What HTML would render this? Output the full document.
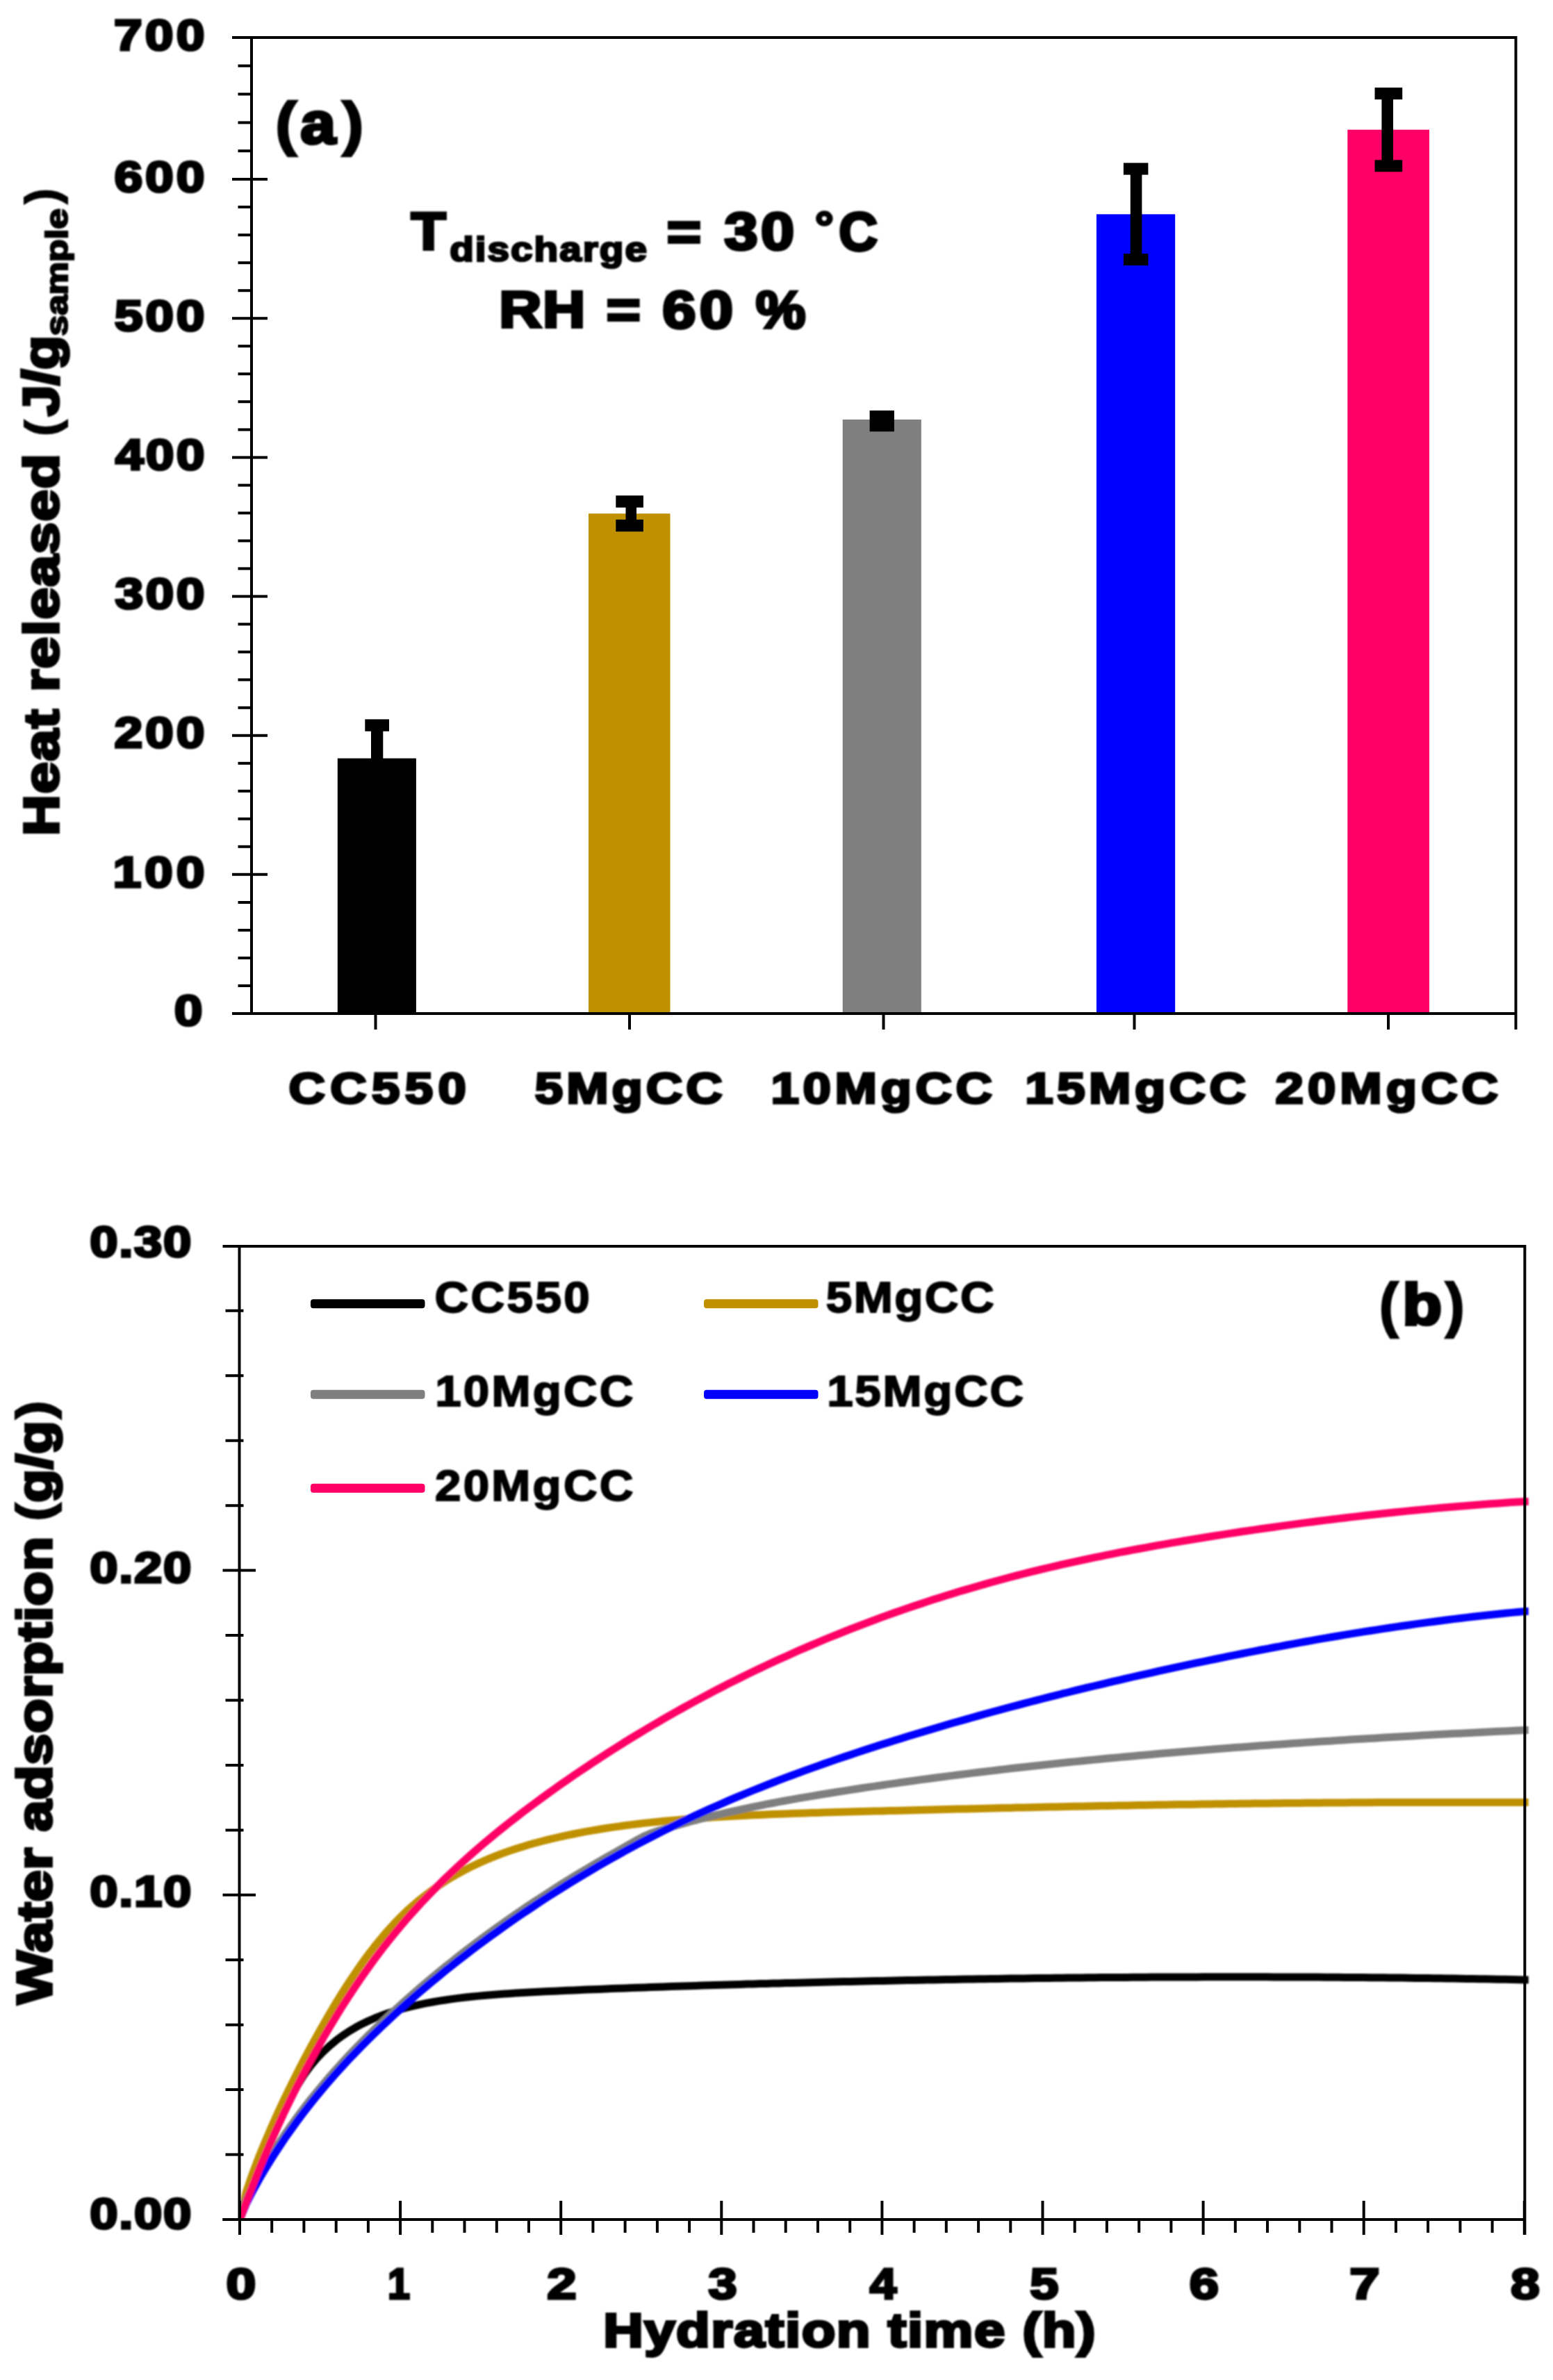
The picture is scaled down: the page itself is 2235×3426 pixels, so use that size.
<!DOCTYPE html><html><head><meta charset="utf-8"><title>Figure</title><style>html,body{margin:0;padding:0;background:#fff}svg{display:block}</style></head><body><svg width="2235" height="3426" viewBox="0 0 2235 3426">
<rect width="2235" height="3426" fill="#fff"/>
<filter id="bl" filterUnits="userSpaceOnUse" x="0" y="0" width="2235" height="3426"><feGaussianBlur stdDeviation="1"/></filter>
<rect x="485.8" y="1091.6" width="113.1" height="367.4" fill="#000"/>
<rect x="847" y="739.3" width="117.5" height="719.7" fill="#BF9000"/>
<rect x="1212.7" y="603.9" width="113.1" height="855.1" fill="#7F7F7F"/>
<rect x="1578" y="308.4" width="113.2" height="1150.6" fill="#0000FF"/>
<rect x="1939.3" y="186.7" width="117.7" height="1272.3" fill="#FF0066"/>
<rect x="525.3" y="1035.4" width="34.7" height="17.3" fill="#000"/>
<rect x="534" y="1052" width="17.3" height="41.0" fill="#000"/>
<rect x="886.3" y="713.3" width="39.6" height="17.3" fill="#000"/>
<rect x="886.3" y="747.9" width="39.6" height="17.3" fill="#000"/>
<rect x="900.5" y="730" width="15.5" height="18.5" fill="#000"/>
<rect x="1251.6" y="590.9" width="35.3" height="30.3" fill="#000"/>
<rect x="1616.9" y="234.5" width="35.5" height="17.1" fill="#000"/>
<rect x="1616.9" y="365.1" width="35.5" height="17.1" fill="#000"/>
<rect x="1626.8" y="251" width="16.6" height="115.0" fill="#000"/>
<rect x="1978.5" y="126.1" width="39.7" height="17.1" fill="#000"/>
<rect x="1978.5" y="230.3" width="39.7" height="17.0" fill="#000"/>
<rect x="1988.4" y="143" width="16.6" height="88.0" fill="#000"/>
<g stroke="#000" stroke-width="4" fill="none">
<path d="M334,54H2183.5M334,1459H2183.5M362,52V1461M2181.5,52V1482"/>
<path d="M334,1459.0H385M342.5,1419.0H362M342.5,1378.9H362M342.5,1338.9H362M342.5,1298.9H362M334,1258.8H385M342.5,1218.8H362M342.5,1178.8H362M342.5,1138.8H362M342.5,1098.7H362M334,1058.7H385M342.5,1018.7H362M342.5,978.6H362M342.5,938.6H362M342.5,898.6H362M334,858.5H385M342.5,818.5H362M342.5,778.5H362M342.5,738.5H362M342.5,698.4H362M334,658.4H385M342.5,618.4H362M342.5,578.3H362M342.5,538.3H362M342.5,498.3H362M334,458.2H385M342.5,418.2H362M342.5,378.2H362M342.5,338.2H362M342.5,298.1H362M334,258.1H385M342.5,217.3H362M342.5,176.5H362M342.5,135.6H362M342.5,94.8H362M540.5,1459V1482M906,1459V1482M1271.5,1459V1482M1632.5,1459V1482M1998,1459V1482"/>
</g>
<g font-family="'Liberation Sans', sans-serif" font-weight="bold" fill="#000" stroke="#000" stroke-linejoin="miter" filter="url(#bl)">
<text transform="translate(162.47,1276.60) scale(1.1500,1)" font-size="63.75" stroke-width="3.51" letter-spacing="4.20">100</text>
<text transform="translate(164.52,1076.45) scale(1.1500,1)" font-size="63.75" stroke-width="3.51" letter-spacing="3.31">200</text>
<text transform="translate(165.40,876.30) scale(1.1500,1)" font-size="63.75" stroke-width="3.51" letter-spacing="2.93">300</text>
<text transform="translate(165.92,676.15) scale(1.1500,1)" font-size="63.75" stroke-width="3.51" letter-spacing="2.71">400</text>
<text transform="translate(164.82,476.00) scale(1.1500,1)" font-size="63.75" stroke-width="3.51" letter-spacing="3.18">500</text>
<text transform="translate(164.38,275.85) scale(1.1500,1)" font-size="63.75" stroke-width="3.51" letter-spacing="3.38">600</text>
<text transform="translate(163.94,71.75) scale(1.1500,1)" font-size="63.75" stroke-width="3.51" letter-spacing="3.57">700</text>
<text transform="translate(250.66,1475.75) scale(1.1500,1)" font-size="63.75" stroke-width="3.51">0</text>
<text transform="translate(415.52,1587.77) scale(1.1500,1)" font-size="63.08" stroke-width="3.47" letter-spacing="6.43">CC550</text>
<text transform="translate(769.82,1587.77) scale(1.1500,1)" font-size="63.08" stroke-width="3.47" letter-spacing="4.33">5MgCC</text>
<text transform="translate(1109.50,1587.77) scale(1.1500,1)" font-size="63.08" stroke-width="3.47" letter-spacing="4.92">10MgCC</text>
<text transform="translate(1475.30,1587.77) scale(1.1500,1)" font-size="63.08" stroke-width="3.47" letter-spacing="4.78">15MgCC</text>
<text transform="translate(1835.53,1587.77) scale(1.1500,1)" font-size="63.08" stroke-width="3.47" letter-spacing="5.26">20MgCC</text>
<text transform="translate(395.98,206.91) scale(1.1001,1)" font-size="85.96" stroke-width="2.58">(</text>
<text transform="translate(432.46,205.91) scale(1.0896,1)" font-size="83.21" stroke-width="4.58">a</text>
<text transform="translate(491.92,206.91) scale(1.1001,1)" font-size="85.96" stroke-width="2.58">)</text>
<text transform="translate(1984.90,1908.20) scale(0.9501,1)" font-size="86.75" stroke-width="2.60">(</text>
<text transform="translate(2018.53,1907.19) scale(1.1015,1)" font-size="83.97" stroke-width="4.62">b</text>
<text transform="translate(2080.06,1908.20) scale(0.9538,1)" font-size="86.75" stroke-width="2.60">)</text>
<text transform="translate(591.65,358.91) scale(1.0726,1)" font-size="76.18" stroke-width="4.19">T</text>
<text transform="translate(647.24,375.65) scale(1.1500,1)" font-size="49.23" stroke-width="2.71" letter-spacing="1.76">discharge</text>
<text transform="translate(959.86,360.00) scale(1.1000,1)" font-size="76.71" stroke-width="4.22">=</text>
<text transform="translate(1042.48,358.93) scale(1.1500,1)" font-size="75.17" stroke-width="4.13" letter-spacing="3.90">30</text>
<text transform="translate(1172.97,348.25) scale(1.1000,1)" font-size="60.61" stroke-width="3.33">°</text>
<text transform="translate(1207.36,359.86) scale(0.9896,1)" font-size="77.82" stroke-width="4.28">C</text>
<text transform="translate(718.23,471.17) scale(1.1500,1)" font-size="73.76" stroke-width="4.06" letter-spacing="1.42">RH</text>
<text transform="translate(872.87,472.23) scale(1.1000,1)" font-size="76.22" stroke-width="4.19">=</text>
<text transform="translate(953.26,472.13) scale(1.1500,1)" font-size="75.43" stroke-width="4.15" letter-spacing="4.66">60</text>
<text transform="translate(1087.78,472.12) scale(1.0648,1)" font-size="75.63" stroke-width="4.16">%</text>
<text transform="translate(84.04,1203.16) rotate(-90) scale(1.1500,1)" font-size="71.33" stroke-width="3.92" letter-spacing="1.18">Heat released</text>
<text transform="translate(83.00,627.66) rotate(-90) scale(1.0406,1)" font-size="66.62" stroke-width="2.00">(</text>
<text transform="translate(84.04,599.00) rotate(-90) scale(1.1270,1)" font-size="71.33" stroke-width="3.92">J/g</text>
<text transform="translate(97.10,483.40) rotate(-90) scale(1.2199,1)" font-size="43.59" stroke-width="2.40">sample</text>
<text transform="translate(83.00,293.47) rotate(-90) scale(0.9975,1)" font-size="66.62" stroke-width="2.00">)</text>
<text transform="translate(74.26,2885.05) rotate(-90) scale(1.1500,1)" font-size="70.66" stroke-width="3.89" letter-spacing="0.47">Water adsorption</text>
<text transform="translate(73.43,2189.87) rotate(-90) scale(1.1050,1)" font-size="71.13" stroke-width="2.13">(</text>
<text transform="translate(74.26,2162.76) rotate(-90) scale(1.1101,1)" font-size="70.66" stroke-width="3.89">g/g</text>
<text transform="translate(73.43,2042.40) rotate(-90) scale(1.1050,1)" font-size="71.13" stroke-width="2.13">)</text>
<text transform="translate(868.13,3377.59) scale(1.1500,1)" font-size="69.31" stroke-width="3.81" letter-spacing="1.36">Hydration time (h)</text>
<text transform="translate(129.17,1808.77) scale(1.1500,1)" font-size="63.08" stroke-width="3.47" letter-spacing="1.47">0.30</text>
<text transform="translate(129.17,2278.07) scale(1.1500,1)" font-size="63.08" stroke-width="3.47" letter-spacing="1.47">0.20</text>
<text transform="translate(129.17,2744.37) scale(1.1500,1)" font-size="63.08" stroke-width="3.47" letter-spacing="1.47">0.10</text>
<text transform="translate(129.17,3208.27) scale(1.1500,1)" font-size="63.08" stroke-width="3.47" letter-spacing="1.47">0.00</text>
<text transform="translate(325.61,3309.25) scale(1.2090,1)" font-size="63.75" stroke-width="3.51">0</text>
<text transform="translate(558.02,3309.25) scale(0.9016,1)" font-size="63.75" stroke-width="3.51">1</text>
<text transform="translate(787.30,3309.25) scale(1.1955,1)" font-size="63.75" stroke-width="3.51">2</text>
<text transform="translate(1019.41,3309.25) scale(1.1610,1)" font-size="63.75" stroke-width="3.51">3</text>
<text transform="translate(1251.87,3309.25) scale(1.0883,1)" font-size="63.75" stroke-width="3.51">4</text>
<text transform="translate(1482.31,3309.25) scale(1.1610,1)" font-size="63.75" stroke-width="3.51">5</text>
<text transform="translate(1711.85,3309.25) scale(1.1911,1)" font-size="63.75" stroke-width="3.51">6</text>
<text transform="translate(1942.37,3309.25) scale(1.2228,1)" font-size="63.75" stroke-width="3.51">7</text>
<text transform="translate(2174.24,3309.25) scale(1.1694,1)" font-size="63.75" stroke-width="3.51">8</text>
<text transform="translate(625.52,1889.00) scale(1.0800,1)" font-size="62.33" stroke-width="1.99" letter-spacing="3.16">CC550</text>
<text transform="translate(1188.76,1889.00) scale(1.0800,1)" font-size="62.33" stroke-width="1.99" letter-spacing="2.30">5MgCC</text>
<text transform="translate(626.20,2024.00) scale(1.0800,1)" font-size="62.33" stroke-width="1.99" letter-spacing="2.94">10MgCC</text>
<text transform="translate(1190.20,2024.00) scale(1.0800,1)" font-size="62.33" stroke-width="1.99" letter-spacing="2.53">15MgCC</text>
<text transform="translate(625.99,2160.00) scale(1.0800,1)" font-size="62.33" stroke-width="1.99" letter-spacing="2.98">20MgCC</text>
</g>
<clipPath id="pc"><rect x="346.5" y="1796" width="1856" height="1401"/></clipPath>
<g clip-path="url(#pc)"><g fill="none" stroke-width="11" stroke-linejoin="round" stroke-linecap="butt" filter="url(#bl)">
<polyline points="345.0,3195.0 354.2,3171.1 363.5,3147.6 372.7,3124.6 382.0,3102.0 391.2,3079.8 400.5,3058.0 409.7,3037.4 419.0,3018.6 428.2,3001.8 437.4,2987.0 446.7,2974.3 455.9,2963.3 465.2,2953.5 474.4,2944.9 483.7,2937.2 492.9,2930.4 502.1,2924.2 511.4,2918.7 520.6,2913.7 529.9,2909.2 539.1,2905.2 548.4,2901.5 557.6,2898.2 566.9,2895.2 576.1,2892.5 585.3,2890.0 594.6,2887.7 603.8,2885.6 613.1,2883.7 622.3,2882.0 631.6,2880.4 640.8,2879.0 650.1,2877.6 659.3,2876.4 668.5,2875.3 677.8,2874.3 687.0,2873.4 696.3,2872.5 705.5,2871.7 714.8,2871.0 724.0,2870.3 733.2,2869.7 742.5,2869.1 751.7,2868.5 761.0,2868.0 770.2,2867.5 779.5,2867.1 788.7,2866.6 798.0,2866.2 807.2,2865.8 816.4,2865.3 825.7,2864.9 834.9,2864.5 844.2,2864.1 853.4,2863.7 862.7,2863.4 871.9,2863.0 881.2,2862.6 890.4,2862.3 899.6,2861.9 908.9,2861.6 918.1,2861.2 927.4,2860.9 936.6,2860.5 945.9,2860.2 955.1,2859.9 964.3,2859.6 973.6,2859.3 982.8,2859.0 992.1,2858.7 1001.3,2858.4 1010.6,2858.1 1019.8,2857.8 1029.1,2857.5 1038.3,2857.2 1047.5,2856.9 1056.8,2856.7 1066.0,2856.4 1075.3,2856.1 1084.5,2855.9 1093.8,2855.6 1103.0,2855.4 1112.3,2855.1 1121.5,2854.9 1130.7,2854.6 1140.0,2854.4 1149.2,2854.2 1158.5,2853.9 1167.7,2853.7 1177.0,2853.5 1186.2,2853.2 1195.4,2853.0 1204.7,2852.8 1213.9,2852.6 1223.2,2852.4 1232.4,2852.2 1241.7,2852.0 1250.9,2851.8 1260.2,2851.6 1269.4,2851.4 1278.6,2851.2 1287.9,2851.0 1297.1,2850.8 1306.4,2850.6 1315.6,2850.5 1324.9,2850.3 1334.1,2850.1 1343.4,2849.9 1352.6,2849.8 1361.8,2849.6 1371.1,2849.4 1380.3,2849.3 1389.6,2849.1 1398.8,2849.0 1408.1,2848.8 1417.3,2848.7 1426.5,2848.5 1435.8,2848.4 1445.0,2848.3 1454.3,2848.1 1463.5,2848.0 1472.8,2847.9 1482.0,2847.8 1491.3,2847.6 1500.5,2847.5 1509.7,2847.4 1519.0,2847.3 1528.2,2847.2 1537.5,2847.1 1546.7,2847.0 1556.0,2846.9 1565.2,2846.8 1574.5,2846.7 1583.7,2846.6 1592.9,2846.6 1602.2,2846.5 1611.4,2846.4 1620.7,2846.4 1629.9,2846.3 1639.2,2846.2 1648.4,2846.2 1657.6,2846.1 1666.9,2846.1 1676.1,2846.0 1685.4,2846.0 1694.6,2846.0 1703.9,2845.9 1713.1,2845.9 1722.4,2845.9 1731.6,2845.8 1740.8,2845.8 1750.1,2845.8 1759.3,2845.8 1768.6,2845.8 1777.8,2845.8 1787.1,2845.8 1796.3,2845.8 1805.6,2845.8 1814.8,2845.8 1824.0,2845.8 1833.3,2845.9 1842.5,2845.9 1851.8,2845.9 1861.0,2846.0 1870.3,2846.0 1879.5,2846.0 1888.7,2846.1 1898.0,2846.1 1907.2,2846.2 1916.5,2846.2 1925.7,2846.3 1935.0,2846.4 1944.2,2846.4 1953.5,2846.5 1962.7,2846.6 1971.9,2846.7 1981.2,2846.8 1990.4,2846.8 1999.7,2846.9 2008.9,2847.0 2018.2,2847.1 2027.4,2847.2 2036.7,2847.4 2045.9,2847.5 2055.1,2847.6 2064.4,2847.7 2073.6,2847.8 2082.9,2848.0 2092.1,2848.1 2101.4,2848.2 2110.6,2848.4 2119.8,2848.5 2129.1,2848.7 2138.3,2848.8 2147.6,2849.0 2156.8,2849.2 2166.1,2849.3 2175.3,2849.5 2184.6,2849.7 2193.8,2849.9 2199.8,2849.9" stroke="#000"/>
<polyline points="345.0,3195.0 354.2,3155.8 363.5,3128.9 372.7,3104.7 382.0,3082.1 391.2,3060.6 400.5,3040.1 409.7,3020.4 419.0,3001.4 428.2,2982.9 437.4,2965.1 446.7,2947.7 455.9,2930.8 465.2,2914.4 474.4,2898.4 483.7,2882.9 492.9,2868.0 502.1,2853.6 511.4,2839.7 520.6,2826.5 529.9,2813.8 539.1,2801.8 548.4,2790.4 557.6,2779.6 566.9,2769.4 576.1,2759.9 585.3,2750.9 594.6,2742.6 603.8,2734.8 613.1,2727.5 622.3,2720.6 631.6,2714.2 640.8,2708.1 650.1,2702.4 659.3,2697.1 668.5,2692.1 677.8,2687.4 687.0,2683.0 696.3,2678.8 705.5,2674.9 714.8,2671.2 724.0,2667.7 733.2,2664.4 742.5,2661.3 751.7,2658.4 761.0,2655.6 770.2,2653.0 779.5,2650.5 788.7,2648.2 798.0,2646.0 807.2,2643.9 816.4,2641.9 825.7,2640.0 834.9,2638.2 844.2,2636.4 853.4,2634.8 862.7,2633.3 871.9,2631.8 881.2,2630.4 890.4,2629.1 899.6,2627.8 908.9,2626.6 918.1,2625.5 927.4,2624.4 936.6,2623.4 945.9,2622.5 955.1,2621.5 964.3,2620.7 973.6,2619.9 982.8,2619.1 992.1,2618.3 1001.3,2617.6 1010.6,2617.0 1019.8,2616.4 1029.1,2615.8 1038.3,2615.2 1047.5,2614.7 1056.8,2614.2 1066.0,2613.7 1075.3,2613.2 1084.5,2612.8 1093.8,2612.4 1103.0,2612.0 1112.3,2611.6 1121.5,2611.2 1130.7,2610.9 1140.0,2610.6 1149.2,2610.2 1158.5,2609.9 1167.7,2609.6 1177.0,2609.4 1186.2,2609.1 1195.4,2608.8 1204.7,2608.6 1213.9,2608.3 1223.2,2608.1 1232.4,2607.8 1241.7,2607.6 1250.9,2607.3 1260.2,2607.1 1269.4,2606.9 1278.6,2606.6 1287.9,2606.4 1297.1,2606.2 1306.4,2605.9 1315.6,2605.7 1324.9,2605.5 1334.1,2605.2 1343.4,2605.0 1352.6,2604.8 1361.8,2604.6 1371.1,2604.3 1380.3,2604.1 1389.6,2603.9 1398.8,2603.7 1408.1,2603.4 1417.3,2603.2 1426.5,2603.0 1435.8,2602.8 1445.0,2602.6 1454.3,2602.4 1463.5,2602.1 1472.8,2601.9 1482.0,2601.7 1491.3,2601.5 1500.5,2601.3 1509.7,2601.1 1519.0,2600.9 1528.2,2600.7 1537.5,2600.5 1546.7,2600.3 1556.0,2600.2 1565.2,2600.0 1574.5,2599.8 1583.7,2599.6 1592.9,2599.4 1602.2,2599.3 1611.4,2599.1 1620.7,2598.9 1629.9,2598.7 1639.2,2598.6 1648.4,2598.4 1657.6,2598.3 1666.9,2598.1 1676.1,2597.9 1685.4,2597.8 1694.6,2597.6 1703.9,2597.5 1713.1,2597.4 1722.4,2597.2 1731.6,2597.1 1740.8,2596.9 1750.1,2596.8 1759.3,2596.7 1768.6,2596.6 1777.8,2596.4 1787.1,2596.3 1796.3,2596.2 1805.6,2596.1 1814.8,2596.0 1824.0,2595.9 1833.3,2595.8 1842.5,2595.7 1851.8,2595.6 1861.0,2595.5 1870.3,2595.4 1879.5,2595.3 1888.7,2595.2 1898.0,2595.2 1907.2,2595.1 1916.5,2595.0 1925.7,2595.0 1935.0,2594.9 1944.2,2594.8 1953.5,2594.8 1962.7,2594.7 1971.9,2594.7 1981.2,2594.6 1990.4,2594.6 1999.7,2594.6 2008.9,2594.5 2018.2,2594.5 2027.4,2594.5 2036.7,2594.4 2045.9,2594.4 2055.1,2594.4 2064.4,2594.4 2073.6,2594.4 2082.9,2594.4 2092.1,2594.4 2101.4,2594.4 2110.6,2594.4 2119.8,2594.4 2129.1,2594.4 2138.3,2594.4 2147.6,2594.5 2156.8,2594.5 2166.1,2594.5 2175.3,2594.5 2184.6,2594.6 2193.8,2594.6 2199.8,2594.6" stroke="#BF9000"/>
<polyline points="345.0,3188.9 354.2,3166.6 363.5,3148.2 372.7,3131.4 382.0,3115.7 391.2,3100.7 400.5,3086.4 409.7,3072.6 419.0,3059.4 428.2,3046.7 437.4,3034.4 446.7,3022.5 455.9,3011.1 465.2,2999.9 474.4,2989.1 483.7,2978.7 492.9,2968.5 502.1,2958.5 511.4,2948.8 520.6,2939.3 529.9,2930.0 539.1,2920.9 548.4,2912.0 557.6,2903.3 566.9,2894.7 576.1,2886.3 585.3,2878.0 594.6,2869.9 603.8,2861.8 613.1,2854.0 622.3,2846.2 631.6,2838.6 640.8,2831.1 650.1,2823.7 659.3,2816.4 668.5,2809.2 677.8,2802.1 687.0,2795.1 696.3,2788.2 705.5,2781.5 714.8,2774.8 724.0,2768.2 733.2,2761.7 742.5,2755.3 751.7,2748.9 761.0,2742.7 770.2,2736.5 779.5,2730.5 788.7,2724.5 798.0,2718.6 807.2,2712.7 816.4,2707.0 825.7,2701.3 834.9,2695.7 844.2,2690.1 853.4,2684.7 862.7,2679.3 871.9,2674.0 881.2,2668.7 890.4,2663.5 899.6,2658.4 908.9,2653.1 918.1,2647.8 927.4,2643.0 936.6,2639.0 945.9,2635.9 955.1,2633.2 964.3,2630.4 973.6,2627.7 982.8,2625.1 992.1,2622.5 1001.3,2620.1 1010.6,2617.7 1019.8,2615.4 1029.1,2613.1 1038.3,2611.0 1047.5,2608.8 1056.8,2606.8 1066.0,2604.8 1075.3,2602.8 1084.5,2600.9 1093.8,2599.1 1103.0,2597.2 1112.3,2595.5 1121.5,2593.7 1130.7,2592.0 1140.0,2590.4 1149.2,2588.7 1158.5,2587.1 1167.7,2585.6 1177.0,2584.0 1186.2,2582.5 1195.4,2581.0 1204.7,2579.5 1213.9,2578.1 1223.2,2576.6 1232.4,2575.2 1241.7,2573.8 1250.9,2572.4 1260.2,2571.1 1269.4,2569.7 1278.6,2568.4 1287.9,2567.1 1297.1,2565.8 1306.4,2564.5 1315.6,2563.2 1324.9,2561.9 1334.1,2560.7 1343.4,2559.5 1352.6,2558.3 1361.8,2557.1 1371.1,2555.9 1380.3,2554.7 1389.6,2553.6 1398.8,2552.4 1408.1,2551.3 1417.3,2550.2 1426.5,2549.1 1435.8,2548.0 1445.0,2546.9 1454.3,2545.8 1463.5,2544.8 1472.8,2543.8 1482.0,2542.7 1491.3,2541.7 1500.5,2540.7 1509.7,2539.7 1519.0,2538.7 1528.2,2537.8 1537.5,2536.8 1546.7,2535.9 1556.0,2535.0 1565.2,2534.0 1574.5,2533.1 1583.7,2532.2 1592.9,2531.3 1602.2,2530.5 1611.4,2529.6 1620.7,2528.7 1629.9,2527.9 1639.2,2527.1 1648.4,2526.2 1657.6,2525.4 1666.9,2524.6 1676.1,2523.8 1685.4,2523.0 1694.6,2522.2 1703.9,2521.5 1713.1,2520.7 1722.4,2519.9 1731.6,2519.2 1740.8,2518.5 1750.1,2517.7 1759.3,2517.0 1768.6,2516.3 1777.8,2515.6 1787.1,2514.9 1796.3,2514.2 1805.6,2513.5 1814.8,2512.8 1824.0,2512.2 1833.3,2511.5 1842.5,2510.9 1851.8,2510.2 1861.0,2509.6 1870.3,2509.0 1879.5,2508.3 1888.7,2507.7 1898.0,2507.1 1907.2,2506.5 1916.5,2505.9 1925.7,2505.3 1935.0,2504.7 1944.2,2504.1 1953.5,2503.6 1962.7,2503.0 1971.9,2502.4 1981.2,2501.9 1990.4,2501.3 1999.7,2500.8 2008.9,2500.2 2018.2,2499.7 2027.4,2499.2 2036.7,2498.7 2045.9,2498.1 2055.1,2497.6 2064.4,2497.1 2073.6,2496.6 2082.9,2496.1 2092.1,2495.6 2101.4,2495.2 2110.6,2494.7 2119.8,2494.2 2129.1,2493.7 2138.3,2493.3 2147.6,2492.8 2156.8,2492.3 2166.1,2491.9 2175.3,2491.4 2184.6,2491.0 2193.8,2490.6 2199.8,2490.6" stroke="#7F7F7F"/>
<polyline points="345.0,3195.0 354.2,3172.6 363.5,3154.3 372.7,3137.5 382.0,3121.7 391.2,3106.8 400.5,3092.4 409.7,3078.7 419.0,3065.5 428.2,3052.8 437.4,3040.5 446.7,3028.6 455.9,3017.1 465.2,3006.0 474.4,2995.2 483.7,2984.7 492.9,2974.5 502.1,2964.6 511.4,2954.9 520.6,2945.4 529.9,2936.1 539.1,2927.0 548.4,2918.1 557.6,2909.4 566.9,2900.8 576.1,2892.4 585.3,2884.1 594.6,2875.9 603.8,2867.9 613.1,2860.0 622.3,2852.3 631.6,2844.7 640.8,2837.1 650.1,2829.7 659.3,2822.4 668.5,2815.3 677.8,2808.2 687.0,2801.2 696.3,2794.3 705.5,2787.5 714.8,2780.9 724.0,2774.3 733.2,2767.8 742.5,2761.3 751.7,2755.0 761.0,2748.8 770.2,2742.6 779.5,2736.5 788.7,2730.5 798.0,2724.6 807.2,2718.8 816.4,2713.0 825.7,2707.3 834.9,2701.7 844.2,2696.2 853.4,2690.7 862.7,2685.3 871.9,2680.0 881.2,2674.8 890.4,2669.6 899.6,2664.5 908.9,2659.5 918.1,2654.5 927.4,2649.7 936.6,2644.8 945.9,2640.1 955.1,2635.4 964.3,2630.8 973.6,2626.3 982.8,2621.8 992.1,2617.4 1001.3,2613.1 1010.6,2608.8 1019.8,2604.6 1029.1,2600.5 1038.3,2596.4 1047.5,2592.4 1056.8,2588.4 1066.0,2584.6 1075.3,2580.7 1084.5,2577.0 1093.8,2573.3 1103.0,2569.6 1112.3,2566.0 1121.5,2562.4 1130.7,2558.9 1140.0,2555.5 1149.2,2552.1 1158.5,2548.7 1167.7,2545.4 1177.0,2542.1 1186.2,2538.8 1195.4,2535.6 1204.7,2532.4 1213.9,2529.3 1223.2,2526.2 1232.4,2523.1 1241.7,2520.1 1250.9,2517.1 1260.2,2514.1 1269.4,2511.1 1278.6,2508.2 1287.9,2505.3 1297.1,2502.4 1306.4,2499.6 1315.6,2496.8 1324.9,2494.0 1334.1,2491.2 1343.4,2488.4 1352.6,2485.7 1361.8,2483.0 1371.1,2480.3 1380.3,2477.7 1389.6,2475.1 1398.8,2472.5 1408.1,2469.9 1417.3,2467.3 1426.5,2464.8 1435.8,2462.3 1445.0,2459.8 1454.3,2457.3 1463.5,2454.9 1472.8,2452.4 1482.0,2450.0 1491.3,2447.6 1500.5,2445.2 1509.7,2442.9 1519.0,2440.6 1528.2,2438.2 1537.5,2436.0 1546.7,2433.7 1556.0,2431.4 1565.2,2429.2 1574.5,2427.0 1583.7,2424.8 1592.9,2422.6 1602.2,2420.4 1611.4,2418.3 1620.7,2416.1 1629.9,2414.0 1639.2,2411.9 1648.4,2409.8 1657.6,2407.8 1666.9,2405.7 1676.1,2403.7 1685.4,2401.7 1694.6,2399.7 1703.9,2397.7 1713.1,2395.7 1722.4,2393.7 1731.6,2391.8 1740.8,2389.9 1750.1,2388.0 1759.3,2386.1 1768.6,2384.2 1777.8,2382.3 1787.1,2380.5 1796.3,2378.6 1805.6,2376.8 1814.8,2375.0 1824.0,2373.3 1833.3,2371.5 1842.5,2369.8 1851.8,2368.0 1861.0,2366.3 1870.3,2364.7 1879.5,2363.0 1888.7,2361.4 1898.0,2359.7 1907.2,2358.1 1916.5,2356.5 1925.7,2355.0 1935.0,2353.4 1944.2,2351.9 1953.5,2350.4 1962.7,2348.9 1971.9,2347.5 1981.2,2346.1 1990.4,2344.6 1999.7,2343.3 2008.9,2341.9 2018.2,2340.5 2027.4,2339.2 2036.7,2337.9 2045.9,2336.6 2055.1,2335.4 2064.4,2334.2 2073.6,2333.0 2082.9,2331.8 2092.1,2330.6 2101.4,2329.5 2110.6,2328.4 2119.8,2327.3 2129.1,2326.3 2138.3,2325.2 2147.6,2324.2 2156.8,2323.2 2166.1,2322.3 2175.3,2321.4 2184.6,2320.5 2193.8,2319.6 2199.8,2319.6" stroke="#0000FF"/>
<polyline points="345.0,3195.0 354.2,3170.6 363.5,3146.4 372.7,3123.3 382.0,3101.1 391.2,3079.8 400.5,3059.3 409.7,3039.5 419.0,3020.4 428.2,3001.9 437.4,2984.0 446.7,2966.7 455.9,2949.9 465.2,2933.6 474.4,2917.9 483.7,2902.6 492.9,2887.7 502.1,2873.4 511.4,2859.4 520.6,2845.9 529.9,2832.8 539.1,2820.1 548.4,2807.8 557.6,2795.9 566.9,2784.4 576.1,2773.2 585.3,2762.4 594.6,2752.0 603.8,2741.8 613.1,2732.0 622.3,2722.4 631.6,2713.1 640.8,2704.0 650.1,2695.1 659.3,2686.5 668.5,2678.0 677.8,2669.7 687.0,2661.7 696.3,2653.7 705.5,2646.0 714.8,2638.3 724.0,2630.9 733.2,2623.5 742.5,2616.3 751.7,2609.2 761.0,2602.2 770.2,2595.3 779.5,2588.5 788.7,2581.8 798.0,2575.1 807.2,2568.6 816.4,2562.2 825.7,2555.8 834.9,2549.5 844.2,2543.3 853.4,2537.1 862.7,2531.1 871.9,2525.1 881.2,2519.2 890.4,2513.3 899.6,2507.5 908.9,2501.8 918.1,2496.2 927.4,2490.6 936.6,2485.1 945.9,2479.7 955.1,2474.3 964.3,2469.0 973.6,2463.8 982.8,2458.6 992.1,2453.5 1001.3,2448.5 1010.6,2443.5 1019.8,2438.6 1029.1,2433.7 1038.3,2429.0 1047.5,2424.2 1056.8,2419.6 1066.0,2415.0 1075.3,2410.4 1084.5,2405.9 1093.8,2401.5 1103.0,2397.1 1112.3,2392.8 1121.5,2388.6 1130.7,2384.4 1140.0,2380.2 1149.2,2376.1 1158.5,2372.1 1167.7,2368.1 1177.0,2364.2 1186.2,2360.3 1195.4,2356.5 1204.7,2352.8 1213.9,2349.1 1223.2,2345.4 1232.4,2341.8 1241.7,2338.3 1250.9,2334.8 1260.2,2331.3 1269.4,2327.9 1278.6,2324.6 1287.9,2321.3 1297.1,2318.1 1306.4,2314.9 1315.6,2311.8 1324.9,2308.7 1334.1,2305.6 1343.4,2302.6 1352.6,2299.7 1361.8,2296.8 1371.1,2293.9 1380.3,2291.1 1389.6,2288.4 1398.8,2285.7 1408.1,2283.0 1417.3,2280.4 1426.5,2277.8 1435.8,2275.2 1445.0,2272.8 1454.3,2270.3 1463.5,2267.9 1472.8,2265.5 1482.0,2263.2 1491.3,2260.9 1500.5,2258.7 1509.7,2256.5 1519.0,2254.3 1528.2,2252.2 1537.5,2250.1 1546.7,2248.1 1556.0,2246.1 1565.2,2244.1 1574.5,2242.2 1583.7,2240.3 1592.9,2238.4 1602.2,2236.6 1611.4,2234.7 1620.7,2233.0 1629.9,2231.2 1639.2,2229.5 1648.4,2227.8 1657.6,2226.1 1666.9,2224.4 1676.1,2222.8 1685.4,2221.2 1694.6,2219.6 1703.9,2218.0 1713.1,2216.5 1722.4,2215.0 1731.6,2213.5 1740.8,2212.0 1750.1,2210.5 1759.3,2209.1 1768.6,2207.6 1777.8,2206.2 1787.1,2204.8 1796.3,2203.5 1805.6,2202.1 1814.8,2200.8 1824.0,2199.5 1833.3,2198.2 1842.5,2196.9 1851.8,2195.6 1861.0,2194.4 1870.3,2193.1 1879.5,2191.9 1888.7,2190.7 1898.0,2189.5 1907.2,2188.4 1916.5,2187.3 1925.7,2186.1 1935.0,2185.0 1944.2,2183.9 1953.5,2182.9 1962.7,2181.8 1971.9,2180.8 1981.2,2179.8 1990.4,2178.8 1999.7,2177.8 2008.9,2176.8 2018.2,2175.9 2027.4,2174.9 2036.7,2174.0 2045.9,2173.1 2055.1,2172.3 2064.4,2171.4 2073.6,2170.6 2082.9,2169.8 2092.1,2169.0 2101.4,2168.2 2110.6,2167.4 2119.8,2166.7 2129.1,2166.0 2138.3,2165.3 2147.6,2164.6 2156.8,2163.9 2166.1,2163.3 2175.3,2162.6 2184.6,2162.0 2193.8,2161.5 2199.8,2161.5" stroke="#FF0066"/>
</g></g>
<rect x="447" y="1870.2" width="164.5" height="13" rx="4" fill="#000"/>
<rect x="1013" y="1870.2" width="164.5" height="13" rx="4" fill="#BF9000"/>
<rect x="447" y="2000.8" width="164.5" height="13" rx="4" fill="#7F7F7F"/>
<rect x="1013" y="2000.8" width="164.5" height="13" rx="4" fill="#0000FF"/>
<rect x="447" y="2135.8" width="164.5" height="13" rx="4" fill="#FF0066"/>
<g stroke="#000" stroke-width="4" fill="none">
<path d="M320.5,1794H2196.4M320.5,3195H2196.4M344.5,1792V3197M2194.4,1792V3217"/>
<path d="M320.5,3195.0H368M324.5,3101.6H350.5M324.5,3008.1H350.5M324.5,2914.7H350.5M324.5,2821.2H350.5M320.5,2727.8H368M324.5,2634.4H350.5M324.5,2540.9H350.5M324.5,2447.5H350.5M324.5,2354.0H350.5M320.5,2260.6H368M324.5,2167.2H350.5M324.5,2073.7H350.5M324.5,1980.3H350.5M324.5,1886.8H350.5M345.0,3168V3217M391.2,3195V3214M437.4,3195V3214M483.7,3195V3214M529.9,3195V3214M576.1,3168V3217M622.3,3195V3214M668.5,3195V3214M714.8,3195V3214M761.0,3195V3214M807.2,3168V3217M853.4,3195V3214M899.6,3195V3214M945.9,3195V3214M992.1,3195V3214M1038.3,3168V3217M1084.5,3195V3214M1130.7,3195V3214M1177.0,3195V3214M1223.2,3195V3214M1269.4,3168V3217M1315.6,3195V3214M1361.8,3195V3214M1408.1,3195V3214M1454.3,3195V3214M1500.5,3168V3217M1546.7,3195V3214M1592.9,3195V3214M1639.2,3195V3214M1685.4,3195V3214M1731.6,3168V3217M1777.8,3195V3214M1824.0,3195V3214M1870.3,3195V3214M1916.5,3195V3214M1962.7,3168V3217M2008.9,3195V3214M2055.1,3195V3214M2101.4,3195V3214M2147.6,3195V3214M2193.8,3168V3217"/>
</g>
</svg></body></html>
